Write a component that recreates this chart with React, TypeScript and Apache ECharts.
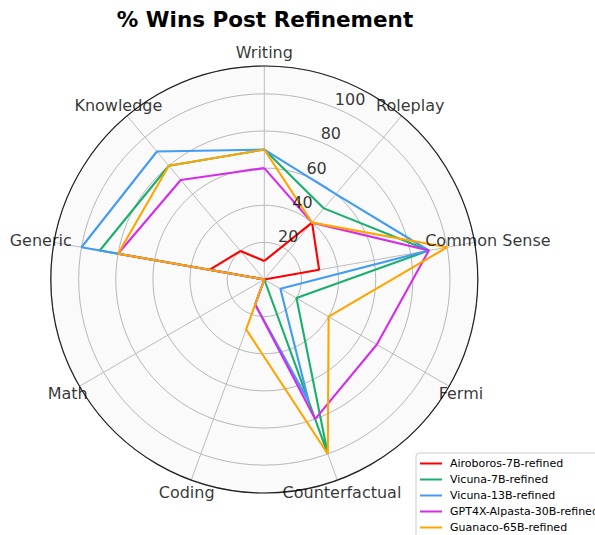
import React, { useEffect, useRef } from "react";
import * as echarts from "echarts";

const CATEGORIES = ["Writing", "Roleplay", "Common Sense", "Fermi", "Counterfactual", "Coding", "Math", "Generic", "Knowledge"];
const SERIES_NAMES = [
  "Airoboros-7B-refined",
  "Vicuna-7B-refined",
  "Vicuna-13B-refined",
  "GPT4X-Alpasta-30B-refined",
  "Guanaco-65B-refined",
];
const AIROBOROS_7B = [10, 40, 30, 0, 0, 0, 0, 30, 20];
const VICUNA_7B = [70, 50, 90, 20, 100, 0, 0, 90, 80];
const VICUNA_13B = [70, 60, 90, 10, 70, 14.3, 0, 100, 90];
const ALPASTA_30B = [60, 40, 90, 70, 80, 14.3, 0, 80, 70];
const GUANACO_65B = [70, 40, 100, 40, 100, 28.6, 0, 80, 80];
const R_TICKS = [20, 40, 60, 80, 100];

const COLORS = ["#ff0000", "#1aaf6c", "#429bf4", "#d42cea", "#ffa500"];
const FONT = "DejaVu Sans";

export default function App() {
  const ref = useRef<HTMLDivElement>(null);
  useEffect(() => {
    if (!ref.current) return;
    const chart = echarts.init(ref.current, null, { renderer: "svg" });
    const step = 360 / CATEGORIES.length;
    const R_MAX = 115;
    const LABEL_R = 122.3;
    const RLABEL_ANGLE = 22.5;
    const allValues = [AIROBOROS_7B, VICUNA_7B, VICUNA_13B, ALPASTA_30B, GUANACO_65B];

    const lineSeries = allValues.map((vals, si) => {
      const pts = vals.map((v, i) => [v, i * step]);
      pts.push([vals[0], 0]);
      return {
        name: SERIES_NAMES[si],
        type: "line",
        coordinateSystem: "polar",
        data: pts,
        symbol: "none",
        showSymbol: false,
        lineStyle: { color: COLORS[si], width: 2.1 },
        itemStyle: { color: COLORS[si] },
        z: 10 + si,
      };
    });

    const option: any = {
      animation: false,
      title: {
        text: "% Wins Post Refinement",
        left: 260,
        top: 3,
        textAlign: "center",
        textStyle: { fontFamily: FONT, fontSize: 21.5, fontWeight: "bold", color: "#000" },
      },
      legend: {
        data: SERIES_NAMES,
        orient: "vertical",
        left: 416,
        top: 453,
        height: 100,
        itemWidth: 22,
        itemHeight: 2,
        itemGap: 3,
        icon: "rect",
        padding: [4, 4, 4, 4],
        borderColor: "#cccccc",
        borderWidth: 1,
        borderRadius: 3,
        backgroundColor: "rgba(255,255,255,0.85)",
        textStyle: { fontFamily: FONT, fontSize: 11, lineHeight: 13, color: "#000", padding: [0, 0, 0, 3] },
        z: 20,
      },
      polar: { center: [264.3, 279.5], radius: 213.5 },
      angleAxis: {
        type: "value",
        min: 0,
        max: 360,
        interval: step,
        startAngle: 90,
        clockwise: true,
        axisLine: { show: true, lineStyle: { color: "#222", width: 1.2 } },
        axisTick: { show: false },
        axisLabel: { show: false },
        splitLine: { show: true, lineStyle: { color: "#bcbcbc", width: 1 } },
        z: 5,
      },
      radiusAxis: {
        type: "value",
        min: 0,
        max: R_MAX,
        interval: 20,
        axisLine: { show: false },
        axisTick: { show: false },
        axisLabel: { show: false },
        splitLine: { show: true, lineStyle: { color: "#bcbcbc", width: 1 } },
        splitArea: { show: true, areaStyle: { color: ["rgba(0,0,0,0.02)"] } },
        z: 1,
      },
      series: [
        ...lineSeries,
        {
          type: "scatter",
          coordinateSystem: "polar",
          clip: false,
          silent: true,
          symbolSize: 1,
          itemStyle: { color: "transparent" },
          data: CATEGORIES.map((c, i) => [LABEL_R, i * step, c]),
          label: {
            show: true,
            position: "inside",
            align: "center",
            verticalAlign: "middle",
            formatter: (p: any) => p.value[2],
            fontFamily: FONT,
            fontSize: 16,
            color: "#000",
          },
          z: 18,
        },
        {
          type: "scatter",
          coordinateSystem: "polar",
          clip: false,
          silent: true,
          symbolSize: 1,
          itemStyle: { color: "transparent" },
          data: R_TICKS.map((t) => [t, RLABEL_ANGLE, String(t)]),
          label: {
            show: true,
            position: [0, 0],
            align: "left",
            verticalAlign: "bottom",
            formatter: (p: any) => p.value[2],
            fontFamily: FONT,
            fontSize: 16,
            color: "#000",
          },
          z: 18,
        },
      ],
    };
    chart.setOption(option);
    return () => chart.dispose();
  }, []);
  return (
    <div
      ref={ref}
      style={{ position: "absolute", left: 0, top: 0, width: 595, height: 535, background: "#fff" }}
    />
  );
}
